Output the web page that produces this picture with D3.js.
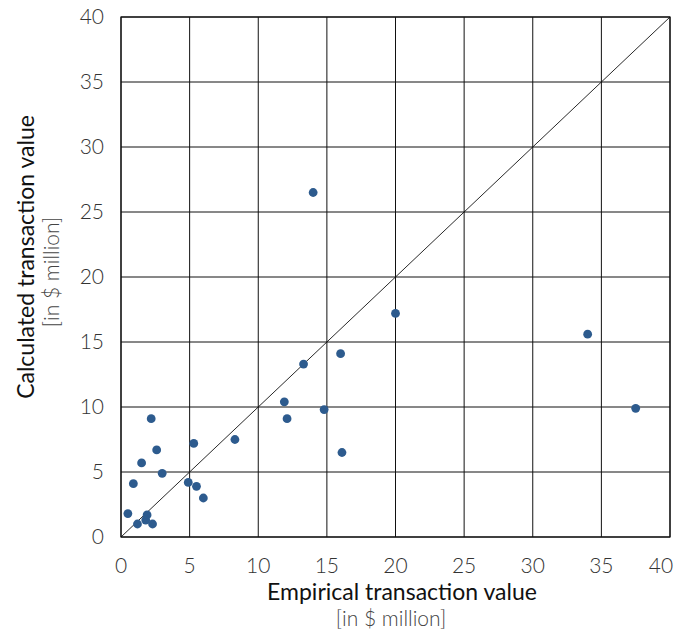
<!DOCTYPE html>
<html>
<head>
<meta charset="utf-8">
<script src="https://cdn.jsdelivr.net/npm/d3@7"></script>
<style>
  body { margin: 0; background: #fff; }
  svg text { font-family: Lato, "Open Sans", sans-serif; }
</style>
</head>
<body>
<div class="vis-scatter"></div>
<script>
// empirical vs calculated transaction values, $ million
var empirical = [2.2, 5.3, 2.6, 1.5, 3.0, 0.9, 4.9, 5.5, 6.0, 0.5, 1.9, 1.8, 1.2, 2.3,
                 13.3, 16.0, 11.9, 14.8, 12.1, 8.3, 16.1, 14.0, 34.0, 37.5, 20.0];
var calculated = [9.1, 7.2, 6.7, 5.7, 4.9, 4.1, 4.2, 3.9, 3.0, 1.8, 1.7, 1.3, 1.0, 1.0,
                  13.3, 14.1, 10.4, 9.8, 9.1, 7.5, 6.5, 26.5, 15.6, 9.9, 17.2];
var ticks = [0, 5, 10, 15, 20, 25, 30, 35, 40];

var margin = {top: 17, right: 6, bottom: 96, left: 121},
    width = 676 - margin.left - margin.right,
    height = 633 - margin.top - margin.bottom;

var data = empirical.map(function(d, i) { return {x: d, y: calculated[i]}; });

var x = d3.scaleLinear().domain([0, 40]).range([0, width]);
var y = d3.scaleLinear().domain([0, 40]).range([height, 0]);

var svg = d3.select('.vis-scatter').append('svg')
    .attr('width', 676)
    .attr('height', 633);

var g = svg.append('g')
    .attr('transform', 'translate(' + margin.left + ',' + margin.top + ')');

// grid
g.selectAll('line.vgrid')
    .data(ticks)
    .enter().append('line')
    .attr('class', 'vgrid')
    .attr('x1', function(d) { return x(d); })
    .attr('x2', function(d) { return x(d); })
    .attr('y1', 0).attr('y2', height)
    .attr('stroke', '#111').attr('stroke-width', 1);

g.selectAll('line.hgrid')
    .data(ticks)
    .enter().append('line')
    .attr('class', 'hgrid')
    .attr('y1', function(d) { return y(d); })
    .attr('y2', function(d) { return y(d); })
    .attr('x1', 0).attr('x2', width)
    .attr('stroke', '#111').attr('stroke-width', 1);

g.append('rect')
    .attr('width', width).attr('height', height)
    .attr('fill', 'none').attr('stroke', '#111').attr('stroke-width', 1.2);

// diagonal y = x
g.append('line')
    .attr('x1', x(0)).attr('y1', y(0))
    .attr('x2', x(40)).attr('y2', y(40))
    .attr('stroke', '#111').attr('stroke-width', 0.9);

// tick labels
g.selectAll('text.xtick')
    .data(ticks)
    .enter().append('text')
    .attr('class', 'xtick')
    .attr('x', function(d) { return d === 40 ? x(d) - 9 : x(d); })
    .attr('y', height + 36)
    .attr('text-anchor', 'middle')
    .attr('font-size', 21)
    .attr('font-weight', 300)
    .attr('fill', '#333')
    .text(function(d) { return d; });

g.selectAll('text.ytick')
    .data(ticks)
    .enter().append('text')
    .attr('class', 'ytick')
    .attr('x', -17)
    .attr('y', function(d) { return y(d); })
    .attr('dy', '0.35em')
    .attr('text-anchor', 'end')
    .attr('font-size', 21)
    .attr('font-weight', 300)
    .attr('fill', '#333')
    .text(function(d) { return d; });

// points
g.selectAll('circle')
    .data(data)
    .enter().append('circle')
    .attr('cx', function(d) { return x(d.x); })
    .attr('cy', function(d) { return y(d.y); })
    .attr('r', 4.4)
    .attr('fill', '#2d5b8e');

// axis titles
svg.append('text')
    .attr('x', 402).attr('y', 600)
    .attr('text-anchor', 'middle')
    .attr('font-size', 23)
    .attr('fill', '#111')
    .text('Empirical transaction value');
svg.append('text')
    .attr('x', 391).attr('y', 626)
    .attr('text-anchor', 'middle')
    .attr('font-size', 21)
    .attr('font-weight', 300)
    .attr('fill', '#444')
    .text('[in $ million]');

svg.append('text')
    .attr('transform', 'translate(34,257) rotate(-90)')
    .attr('text-anchor', 'middle')
    .attr('font-size', 23)
    .attr('fill', '#111')
    .text('Calculated transaction value');
svg.append('text')
    .attr('transform', 'translate(59,272) rotate(-90)')
    .attr('text-anchor', 'middle')
    .attr('font-size', 21)
    .attr('font-weight', 300)
    .attr('fill', '#444')
    .text('[in $ million]');
</script>
</body>
</html>
